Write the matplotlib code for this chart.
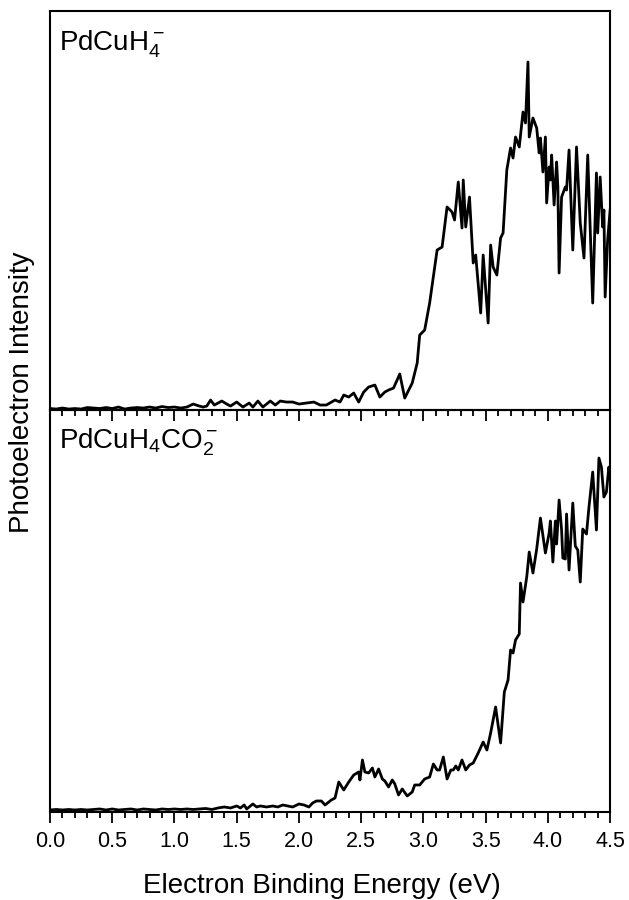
import numpy as np
import matplotlib
matplotlib.use('Agg')
from matplotlib import pyplot as plt
from matplotlib.ticker import MultipleLocator

plt.rcParams['font.family'] = ['Liberation Sans', 'DejaVu Sans']
plt.rcParams['mathtext.default'] = 'regular'

# PdCuH4- spectrum (binding energy in eV, intensity in arb. units)
top_ebe = [0.0, 0.05, 0.1, 0.15, 0.2, 0.25, 0.3, 0.35, 0.4, 0.45, 0.5, 0.55, 0.6, 0.65, 0.7,
           0.75, 0.8, 0.85, 0.9, 0.95, 1.0, 1.05, 1.1, 1.15, 1.2, 1.23, 1.26, 1.29, 1.32, 1.35,
           1.38, 1.42, 1.45, 1.5, 1.55, 1.6, 1.63, 1.67, 1.71, 1.77, 1.81, 1.85, 1.9, 1.95, 2.0,
           2.06, 2.12, 2.17, 2.22, 2.29, 2.33, 2.36, 2.40, 2.44, 2.48, 2.52, 2.56, 2.61, 2.65,
           2.69, 2.72, 2.76, 2.81, 2.85, 2.91, 2.95, 2.97, 3.01, 3.05, 3.11, 3.15, 3.19, 3.23,
           3.25, 3.28, 3.31, 3.32, 3.34, 3.37, 3.40, 3.42, 3.46, 3.48, 3.52, 3.54, 3.56, 3.59,
           3.62, 3.64, 3.67, 3.70, 3.72, 3.74, 3.77, 3.80, 3.82, 3.84, 3.85, 3.88, 3.91, 3.93,
           3.94, 3.96, 3.98, 3.99, 4.01, 4.02, 4.03, 4.05, 4.07, 4.08, 4.09, 4.11, 4.14, 4.15,
           4.17, 4.20, 4.23, 4.26, 4.29, 4.32, 4.36, 4.39, 4.40, 4.42, 4.44, 4.45, 4.46, 4.48,
           4.50]
top_int = [1.5, 1, 2, 1, 1.5, 1, 2.5, 2, 1.5, 2.5, 1.5, 3, 1, 2, 2.5,
           2, 3, 2, 3.5, 2.5, 3, 2, 3, 6, 4, 3, 4, 10, 5, 7,
           9, 6, 4, 8, 3, 7, 3, 9, 3, 9, 5, 9, 8, 8, 6,
           7, 8, 5, 5, 10, 8, 15, 13, 17, 8, 18, 23, 25, 13,
           18, 20, 22, 36, 12, 27, 47, 75, 80, 107, 160, 163, 203, 198,
           190, 228, 182, 230, 183, 213, 147, 155, 97, 155, 87, 165, 143, 135,
           172, 177, 240, 262, 252, 273, 263, 298, 287, 348, 273, 292, 282, 257,
           272, 238, 273, 207, 243, 230, 255, 205, 248, 223, 137, 213, 223, 220,
           260, 160, 263, 187, 152, 255, 107, 237, 177, 233, 183, 200, 113, 170,
           200]

# PdCuH4CO2- spectrum
bot_ebe = [0.0, 0.05, 0.1, 0.15, 0.2, 0.25, 0.3, 0.35, 0.4, 0.45, 0.5, 0.55, 0.6, 0.65, 0.7,
           0.75, 0.8, 0.85, 0.9, 0.95, 1.0, 1.05, 1.1, 1.15, 1.2, 1.25, 1.3, 1.35, 1.4, 1.45,
           1.5, 1.53, 1.56, 1.58, 1.63, 1.66, 1.69, 1.74, 1.79, 1.83, 1.87, 1.91, 1.95, 2.0,
           2.04, 2.08, 2.11, 2.14, 2.18, 2.21, 2.26, 2.29, 2.32, 2.36, 2.40, 2.44, 2.48, 2.49,
           2.51, 2.53, 2.56, 2.59, 2.61, 2.64, 2.67, 2.69, 2.72, 2.75, 2.77, 2.80, 2.83, 2.87,
           2.91, 2.93, 2.97, 3.01, 3.05, 3.08, 3.11, 3.13, 3.16, 3.19, 3.22, 3.24, 3.26, 3.28,
           3.31, 3.34, 3.37, 3.40, 3.44, 3.48, 3.51, 3.54, 3.58, 3.62, 3.65, 3.68, 3.70, 3.72,
           3.74, 3.77, 3.78, 3.80, 3.83, 3.85, 3.88, 3.91, 3.94, 3.98, 4.01, 4.02, 4.04, 4.06,
           4.07, 4.09, 4.11, 4.12, 4.14, 4.15, 4.17, 4.20, 4.22, 4.24, 4.26, 4.28, 4.31, 4.33,
           4.36, 4.39, 4.41, 4.43, 4.45, 4.47, 4.49, 4.50]
bot_int = [2, 2.5, 2, 2.5, 2, 2.5, 2, 2.5, 3, 2, 3, 2, 2.5, 3, 2,
           3, 2.5, 2, 3, 2.5, 3, 2.5, 3, 2.5, 3, 3.5, 2.5, 4, 5, 4,
           6, 4, 7, 3, 8, 5, 6, 5, 6, 5, 7, 6, 5, 8,
           7, 5, 9, 11, 11, 7, 12, 14, 30, 22, 30, 37, 40, 32,
           52, 40, 39, 44, 35, 43, 33, 31, 25, 32, 28, 17, 23, 16,
           20, 27, 27, 33, 35, 48, 42, 42, 55, 33, 42, 42, 46, 42,
           52, 42, 47, 49, 59, 70, 62, 79, 105, 69, 120, 132, 162, 159,
           172, 178, 229, 210, 235, 260, 239, 263, 294, 259, 279, 291, 250, 291,
           268, 312, 282, 254, 253, 298, 242, 309, 266, 262, 230, 283, 278, 305,
           340, 282, 354, 345, 315, 320, 345, 335]

fig = plt.figure(figsize=(6.29, 9.0), dpi=100)
ax1 = fig.add_axes([0.0795, 0.5444, 0.8905, 0.4434])
ax2 = fig.add_axes([0.0795, 0.0978, 0.8905, 0.4466])
ax2.patch.set_alpha(0)  # let the upper panel's bottom ticks show through

for ax, x, y, ytop in [(ax1, top_ebe, top_int, 399), (ax2, bot_ebe, bot_int, 402)]:
    ax.plot(x, y, color='black', lw=2.0)
    ax.set_xlim(0, 4.5)
    ax.set_ylim(0, ytop)
    ax.set_yticks([])
    ax.xaxis.set_major_locator(MultipleLocator(0.5))
    ax.xaxis.set_minor_locator(MultipleLocator(0.1))
    ax.tick_params(axis='x', which='major', direction='out', length=8, width=1.3,
                   labelsize=15.5, pad=6)
    ax.tick_params(axis='x', which='minor', direction='out', length=4.5, width=1.3)
    for s in ax.spines.values():
        s.set_linewidth(1.5)

ax1.tick_params(axis='x', labelbottom=False)
ax2.xaxis.set_major_formatter(matplotlib.ticker.FormatStrFormatter('%.1f'))

ax1.text(0.016, 0.902, r'PdCuH$_4^-$', transform=ax1.transAxes, fontsize=20,
         ha='left', va='baseline')
ax2.text(0.016, 0.905, r'PdCuH$_4$CO$_2^-$', transform=ax2.transAxes, fontsize=20,
         ha='left', va='baseline')

fig.text(0.035, 0.5644, 'Photoelectron Intensity', rotation=90, fontsize=20,
         ha='center', va='center')
fig.text(322 / 629, 7 / 900, 'Electron Binding Energy (eV)', fontsize=20,
         ha='center', va='baseline')

plt.savefig('out.png', dpi=100)
